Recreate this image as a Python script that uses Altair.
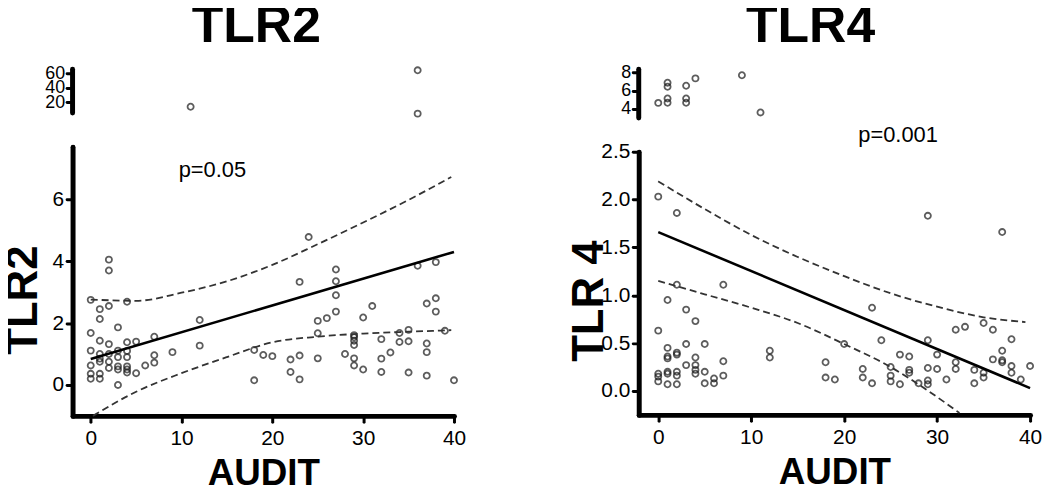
import altair as alt
import pandas as pd

FONT = "Liberation Sans"

# ---------------- TLR2 panel ----------------
tlr2_audit = [0, 0, 0, 0, 0, 0, 1, 1, 1, 1, 1, 1, 1, 1, 2, 2, 2, 2, 2, 2, 2,
              3, 3, 3, 3, 3, 3, 4, 4, 4, 4, 4, 4, 4, 5, 5, 6, 7, 7, 7, 9, 12, 12,
              18, 18, 19, 20, 22, 22, 23, 23, 23, 24, 25, 25, 25, 26, 27, 27, 27, 27,
              28, 29, 29, 29, 29, 29, 29, 30, 30, 31, 32, 32, 32, 33, 34, 34,
              35, 35, 35, 36, 37, 37, 37, 37, 38, 38, 38, 39, 40]
tlr2_value = [2.75, 1.68, 1.11, 0.63, 0.36, 0.20, 2.45, 2.13, 1.43, 1.00, 0.85, 0.75, 0.36, 0.20,
              4.05, 3.70, 2.55, 1.32, 1.00, 0.75, 0.55, 1.86, 1.11, 0.90, 0.60, 0.50, 0.00,
              2.69, 1.38, 1.10, 0.90, 0.60, 0.50, 0.40, 1.40, 0.38, 0.63, 1.56, 0.96, 0.72, 1.06,
              2.10, 1.27, 1.13, 0.15, 0.97, 0.93, 0.82, 0.42, 3.33, 0.95, 0.18, 4.78,
              2.07, 1.67, 0.86, 2.16, 3.73, 3.35, 2.90, 2.37, 1.00, 1.61, 1.54, 1.43, 1.29, 0.86, 0.63,
              2.18, 0.50, 2.55, 1.48, 0.85, 0.42, 1.05, 1.68, 1.39, 1.78, 1.41, 0.40, 3.85,
              2.63, 1.34, 1.06, 0.30, 3.97, 2.80, 2.37, 1.75, 0.15]
tlr2_high_audit = [11, 36, 36]
tlr2_high_value = [13.6, 64.5, 4.0]
tlr2_high_range = [5, 66]
tlr2_fit_audit = [0, 40]
tlr2_fit_value = [0.84, 4.30]
tlr2_ciu_audit = [0, 5, 10, 15, 20, 25, 30, 35, 39.7]
tlr2_ciu_value = [2.76, 2.72, 2.98, 3.35, 3.88, 4.55, 5.25, 5.98, 6.72]
tlr2_cil_audit = [0.25, 5, 10, 15, 20, 25, 30, 35, 39.7]
tlr2_cil_value = [-1.0, -0.22, 0.38, 0.90, 1.38, 1.56, 1.66, 1.72, 1.77]

# ---------------- TLR4 panel ----------------
tlr4_audit = [0, 0, 0, 0, 0, 1, 1, 1, 1, 1, 1, 1, 2, 2, 2, 2, 2, 2, 2, 3, 3, 3,
              4, 4, 4, 4, 4, 5, 5, 5, 6, 6, 7, 7, 7, 12, 12, 18, 18, 19, 20, 22, 22,
              23, 23, 24, 25, 25, 25, 26, 26, 27, 27, 27, 28, 29, 29, 29, 29, 29,
              30, 30, 31, 32, 32, 32, 33, 34, 34, 35, 35, 35, 36, 36, 37, 37, 37, 37,
              38, 38, 38, 39, 40]
tlr4_value = [2.03, 0.63, 0.18, 0.15, 0.10, 0.95, 0.45, 0.36, 0.34, 0.20, 0.18, 0.07,
              1.86, 1.11, 0.40, 0.38, 0.20, 0.16, 0.07, 0.85, 0.49, 0.27,
              0.73, 0.35, 0.27, 0.22, 0.18, 0.49, 0.20, 0.08, 0.13, 0.08, 1.11, 0.31, 0.16,
              0.42, 0.35, 0.30, 0.14, 0.12, 0.49, 0.23, 0.14, 0.87, 0.08, 0.53,
              0.25, 0.16, 0.10, 0.38, 0.07, 0.36, 0.22, 0.19, 0.08, 1.83, 0.53, 0.24, 0.11, 0.07,
              0.38, 0.23, 0.12, 0.64, 0.30, 0.23, 0.67, 0.22, 0.08, 0.71, 0.19, 0.14, 0.64, 0.33,
              1.66, 0.42, 0.32, 0.30, 0.54, 0.26, 0.19, 0.12, 0.26]
tlr4_high_audit = [0, 1, 1, 1, 1, 3, 3, 3, 4, 9, 11]
tlr4_high_value = [4.65, 6.87, 6.43, 5.14, 4.67, 6.54, 5.14, 4.67, 7.35, 7.70, 3.60]
tlr4_high_range = [3, 8.36]
tlr4_fit_audit = [0, 40]
tlr4_fit_value = [1.66, 0.03]
tlr4_ciu_audit = [0, 5, 10, 15, 20, 25, 30, 35, 39.5]
tlr4_ciu_value = [2.19, 1.90, 1.63, 1.40, 1.20, 1.02, 0.88, 0.77, 0.72]
tlr4_cil_audit = [0, 5, 10, 15, 20, 25, 28.9, 32.4]
tlr4_cil_value = [1.15, 1.01, 0.87, 0.71, 0.49, 0.25, 0.01, -0.23]

x_ticks = [0, 10, 20, 30, 40]

PT = dict(shape="circle", filled=False, size=38, strokeWidth=1.8, color="#1a1a1a")


def axis_style(**kw):
    base = dict(domainColor="black", domainWidth=5, domainCap="round",
                tickColor="black", tickWidth=3, tickSize=6, tickCap="round",
                labelColor="black", labelFont=FONT, grid=False, labelOverlap=False)
    base.update(kw)
    return alt.Axis(**base)


def upper_chart(title, title_dx, hi_x, hi_y, hi_dom, hi_h, hi_ticks, xdom, width):
    xs = alt.Scale(domain=xdom, nice=False, zero=False)
    ys = alt.Scale(domain=hi_dom, nice=False, zero=False)
    y_axis = axis_style(domain=False, values=hi_ticks, format="d", title=None,
                        labelFontSize=18, labelPadding=2)
    hi_df = pd.DataFrame({"audit": hi_x, "value": hi_y})
    # the short axis segment of the broken y axis, drawn through the scales
    seg_df = pd.DataFrame({"audit": [xdom[0], xdom[0]], "value": hi_dom})
    seg = alt.Chart(seg_df).mark_line(color="black", strokeWidth=5, strokeCap="round").encode(
        x=alt.X("audit:Q", scale=xs, axis=None),
        y=alt.Y("value:Q", scale=ys, axis=y_axis),
    )
    pts = alt.Chart(hi_df).mark_point(**PT).encode(
        x=alt.X("audit:Q", scale=xs, axis=None),
        y=alt.Y("value:Q", scale=ys, axis=y_axis),
    )
    return alt.layer(seg, pts).properties(
        width=width, height=hi_h,
        title=alt.TitleParams(title, font=FONT, fontSize=52, fontWeight="bold",
                              color="black", anchor="middle", dx=title_dx, offset=6))


def lower_chart(ytitle, ytitle_x, ytitle_y, lo_x, lo_y, lo_dom, lo_h, lo_ticks, lo_fmt,
                fit_x, fit_y, ciu_x, ciu_y, cil_x, cil_y, ptext, p_x, p_y, xdom, width):
    xs = alt.Scale(domain=xdom, nice=False, zero=False)
    ys = alt.Scale(domain=lo_dom, nice=False, zero=False)
    lo_df = pd.DataFrame({"audit": lo_x, "value": lo_y})
    y_enc = alt.Y("value:Q", scale=ys,
                  axis=axis_style(values=lo_ticks, format=lo_fmt, title=ytitle,
                                  labelFontSize=21, labelPadding=3,
                                  titleFont=FONT, titleFontSize=44, titleFontWeight="bold",
                                  titleColor="black", titleAngle=270, titleBaseline="bottom",
                                  titleAlign="center", titleX=ytitle_x, titleY=ytitle_y))
    x_enc = alt.X("audit:Q", scale=xs,
                  axis=axis_style(values=x_ticks, format="d", title="AUDIT", labelFontSize=21,
                                  labelPadding=6, labelFlush=False,
                                  titleFont=FONT, titleFontSize=37, titleFontWeight="bold",
                                  titleColor="black", titleY=40))
    pts = alt.Chart(lo_df).mark_point(**PT).encode(x=x_enc, y=y_enc)

    fit_df = pd.DataFrame({"audit": fit_x, "value": fit_y})
    fit = alt.Chart(fit_df).mark_line(color="black", strokeWidth=2.6).encode(
        x="audit:Q", y="value:Q")

    ci_df = pd.DataFrame({"audit": list(ciu_x) + list(cil_x),
                          "value": list(ciu_y) + list(cil_y),
                          "band": ["upper"] * len(ciu_x) + ["lower"] * len(cil_x)})
    ci = alt.Chart(ci_df).mark_line(color="#333", strokeWidth=1.8, strokeDash=[7, 4],
                                    interpolate="monotone").encode(
        x="audit:Q", y="value:Q", detail="band:N")

    p_df = pd.DataFrame({"audit": [p_x], "value": [p_y], "label": [ptext]})
    ptxt = alt.Chart(p_df).mark_text(font=FONT, fontSize=22, color="black",
                                     align="center", baseline="middle").encode(
        x="audit:Q", y="value:Q", text="label:N")

    return alt.layer(pts, ci, fit, ptxt).properties(width=width, height=lo_h)


up2 = upper_chart("TLR2", -7, tlr2_high_audit, tlr2_high_value, tlr2_high_range, 44,
                  [20, 40, 60], [-2, 40], 384)
low2 = lower_chart("TLR2", -27, 154, tlr2_audit, tlr2_value, [-1.0, 7.7], 271,
                   [0, 2, 4, 6], "d",
                   tlr2_fit_audit, tlr2_fit_value, tlr2_ciu_audit, tlr2_ciu_value,
                   tlr2_cil_audit, tlr2_cil_value, "p=0.05", 13.4, 6.93, [-2, 40], 384)
up4 = upper_chart("TLR4", -24, tlr4_high_audit, tlr4_high_value, tlr4_high_range, 49,
                  [4, 6, 8], [-2.1, 40], 394)
low4 = lower_chart("TLR 4", -27, 150, tlr4_audit, tlr4_value, [-0.25, 2.5], 265,
                   [0, 0.5, 1.0, 1.5, 2.0, 2.5], ".1f",
                   tlr4_fit_audit, tlr4_fit_value, tlr4_ciu_audit, tlr4_ciu_value,
                   tlr4_cil_audit, tlr4_cil_value, "p=0.001", 25.8, 2.67, [-2.1, 40], 394)

left = alt.vconcat(up2, low2, spacing=34, bounds="flush").resolve_scale(
    x="independent", y="independent")
right = alt.vconcat(up4, low4, spacing=34, bounds="flush").resolve_scale(
    x="independent", y="independent")

chart = alt.hconcat(left, right, spacing=103).resolve_scale(
    x="independent", y="independent"
).configure_view(stroke=None).properties(
    padding={"left": -6, "top": -9, "right": 0, "bottom": 0}, background="white")

chart.save("out.html", embed_options={"renderer": "svg", "actions": False})
